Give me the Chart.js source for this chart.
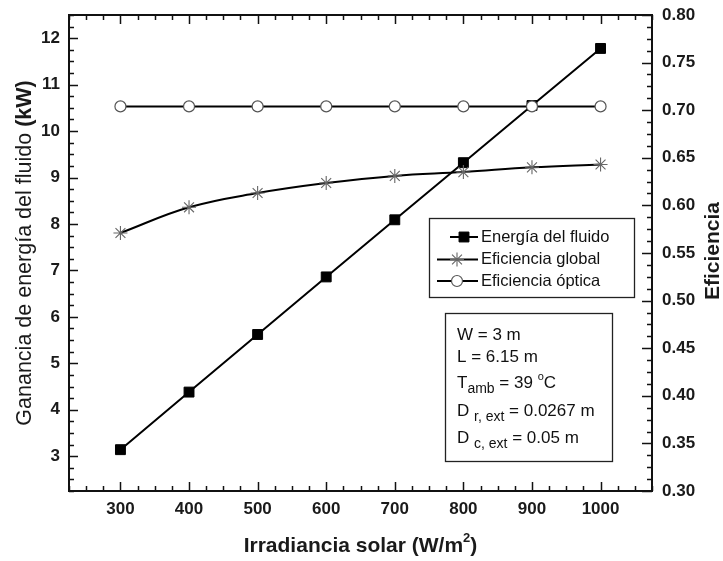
<!DOCTYPE html>
<html>
<head>
<meta charset="utf-8">
<script src="https://cdn.jsdelivr.net/npm/chart.js@4"></script>
<style>
  body { margin: 0; background: #fff; }
</style>
</head>
<body>
<canvas id="myChart" width="723" height="561"></canvas>
<script>
// datos
var irradiancia = [300, 400, 500, 600, 700, 800, 900, 1000]
var energiaFluido = [3.14, 4.38, 5.62, 6.86, 8.09, 9.32, 10.55, 11.78]
var eficGlobal = [0.571, 0.598, 0.613, 0.6235, 0.631, 0.635, 0.640, 0.643]
var eficOptica = [0.704, 0.704, 0.704, 0.704, 0.704, 0.704, 0.704, 0.704]
var xTicks = [300, 400, 500, 600, 700, 800, 900, 1000]
var yTicks = [3, 4, 5, 6, 7, 8, 9, 10, 11, 12]
var y2Ticks = [0.30, 0.35, 0.40, 0.45, 0.50, 0.55, 0.60, 0.65, 0.70, 0.75, 0.80]
var nombres = ['Energía del fluido', 'Eficiencia global', 'Eficiencia óptica']

const FONT = "'Liberation Sans', Arial, sans-serif"

function pares(xs, ys) {
  return xs.map((x, i) => ({ x: x, y: ys[i] }))
}

function textRuns(ctx, runs, x, y) {
  runs.forEach(r => {
    ctx.font = (r.bold ? 'bold ' : '') + r.size + 'px ' + FONT
    ctx.fillText(r.t, x, y + (r.dy || 0))
    x += ctx.measureText(r.t).width
  })
  return x
}
function runsWidth(ctx, runs) {
  let w = 0
  runs.forEach(r => {
    ctx.font = (r.bold ? 'bold ' : '') + r.size + 'px ' + FONT
    w += ctx.measureText(r.t).width
  })
  return w
}

const marco = {
  id: 'marco',
  afterDraw(chart) {
    const ctx = chart.ctx, a = chart.chartArea
    const sx = chart.scales.x, sy = chart.scales.y, sy2 = chart.scales.y2
    ctx.save()
    ctx.strokeStyle = '#111'
    ctx.lineWidth = 1.5
    ctx.beginPath()
    // x ticks (abajo y arriba, hacia dentro)
    for (let v = sx.min; v <= sx.max + 0.01; v += 25) {
      const px = Math.round(sx.getPixelForValue(v)) + 0.5
      const len = v % 100 === 0 ? 9 : 5
      ctx.moveTo(px, a.bottom); ctx.lineTo(px, a.bottom - len)
      ctx.moveTo(px, a.top); ctx.lineTo(px, a.top + len)
    }
    for (let v = sy.min; v <= sy.max + 0.001; v += 0.25) {
      const py = Math.round(sy.getPixelForValue(v)) + 0.5
      const len = Math.abs(v - Math.round(v)) < 0.01 ? 9 : 5
      ctx.moveTo(a.left, py); ctx.lineTo(a.left + len, py)
    }
    for (let i = 0; i <= 40; i++) {
      const v = sy2.min + i * 0.0125
      const py = Math.round(sy2.getPixelForValue(v)) + 0.5
      const len = i % 4 === 0 ? 10 : 5
      ctx.moveTo(a.right, py); ctx.lineTo(a.right - len, py)
    }
    ctx.stroke()
    ctx.lineWidth = 2
    ctx.strokeRect(a.left, a.top, a.right - a.left, a.bottom - a.top)

    // leyenda
    ctx.lineWidth = 1.3
    ctx.strokeStyle = '#222'
    ctx.strokeRect(429.5, 218.5, 205, 79)
    const ds = chart.data.datasets
    const filas = [237, 259.5, 281]
    ds.forEach((d, i) => {
      const y = filas[i]
      const x0 = i === 0 ? 450 : 437
      const xm = i === 0 ? 464 : 457
      ctx.strokeStyle = '#000'
      ctx.lineWidth = 2
      ctx.beginPath(); ctx.moveTo(x0, y); ctx.lineTo(478, y); ctx.stroke()
      ctx.fillStyle = d.pointBackgroundColor
      ctx.strokeStyle = d.pointBorderColor
      ctx.lineWidth = d.pointBorderWidth
      Chart.helpers.drawPoint(ctx, { pointStyle: d.pointStyle, radius: d.pointRadius, borderWidth: d.pointBorderWidth }, xm, y)
      ctx.fillStyle = '#111'
      ctx.font = '16.5px ' + FONT
      ctx.textBaseline = 'middle'
      ctx.textAlign = 'left'
      ctx.fillText(d.label, 481, y)
    })

    // caja de parametros
    ctx.lineWidth = 1.3
    ctx.strokeStyle = '#222'
    ctx.strokeRect(445.5, 313.5, 167, 148)
    ctx.fillStyle = '#111'
    ctx.textBaseline = 'alphabetic'
    const F = 17, S = 14
    textRuns(ctx, [{ t: 'W = 3 m', size: F }], 457, 340)
    textRuns(ctx, [{ t: 'L = 6.15 m', size: F }], 457, 362)
    textRuns(ctx, [{ t: 'T', size: F }, { t: 'amb', size: S, dy: 5 }, { t: ' = 39 ', size: F },
      { t: 'o', size: 11, dy: -8 }, { t: 'C', size: F }], 457, 388)
    textRuns(ctx, [{ t: 'D ', size: F }, { t: 'r, ext', size: S, dy: 5 }, { t: ' = 0.0267 m', size: F }], 457, 416)
    textRuns(ctx, [{ t: 'D ', size: F }, { t: 'c, ext', size: S, dy: 5 }, { t: ' = 0.05 m', size: F }], 457, 443)

    // titulos de ejes
    ctx.fillStyle = '#1a1a1a'
    ctx.textBaseline = 'middle'
    const izq = [{ t: 'Ganancia de energía del fluido ', size: 21.5 }, { t: '(kW)', size: 21.5, bold: true }]
    ctx.save()
    ctx.translate(25, (a.top + a.bottom) / 2)
    ctx.rotate(-Math.PI / 2)
    textRuns(ctx, izq, -runsWidth(ctx, izq) / 2, 0)
    ctx.restore()

    const der = [{ t: 'Eficiencia', size: 21, bold: true }]
    ctx.save()
    ctx.translate(713, (a.top + a.bottom) / 2 - 2)
    ctx.rotate(-Math.PI / 2)
    textRuns(ctx, der, -runsWidth(ctx, der) / 2, 0)
    ctx.restore()

    const abajo = [{ t: 'Irradiancia solar (W/m', size: 21, bold: true }, { t: '2', size: 13, bold: true, dy: -8 },
      { t: ')', size: 21, bold: true }]
    textRuns(ctx, abajo, (a.left + a.right) / 2 - runsWidth(ctx, abajo) / 2, 546)
    ctx.restore()
  }
}

const tickFont = { family: FONT, size: 17, weight: 'bold' }

const ctx = document.getElementById('myChart')
new Chart(ctx, {
  type: 'line',
  data: {
    datasets: [{
      label: nombres[0],
      data: pares(irradiancia, energiaFluido),
      yAxisID: 'y',
      borderColor: '#000',
      borderWidth: 2,
      pointStyle: 'rect',
      pointRadius: 7,
      pointBackgroundColor: '#000',
      pointBorderColor: '#000',
      pointBorderWidth: 1,
      tension: 0,
      order: 2
    }, {
      label: nombres[1],
      data: pares(irradiancia, eficGlobal),
      yAxisID: 'y2',
      borderColor: '#000',
      borderWidth: 2,
      pointStyle: 'star',
      pointRadius: 7,
      pointBackgroundColor: '#666',
      pointBorderColor: '#666',
      pointBorderWidth: 1.1,
      tension: 0.4,
      order: 1
    }, {
      label: nombres[2],
      data: pares(irradiancia, eficOptica),
      yAxisID: 'y2',
      borderColor: '#000',
      borderWidth: 2,
      pointStyle: 'circle',
      pointRadius: 5.5,
      pointBackgroundColor: '#fff',
      pointBorderColor: '#555',
      pointBorderWidth: 1.2,
      tension: 0,
      order: 0
    }]
  },
  options: {
    responsive: false,
    animation: false,
    devicePixelRatio: 1,
    layout: { padding: { top: 15, left: 0, right: 0, bottom: 0 } },
    plugins: { legend: { display: false }, tooltip: { enabled: false } },
    scales: {
      x: {
        type: 'linear',
        min: 225,
        max: 1075,
        afterBuildTicks: s => { s.ticks = xTicks.map(v => ({ value: v })) },
        afterFit: s => { s.height = 70; s.paddingLeft = 0; s.paddingRight = 0 },
        grid: { display: false, drawTicks: false },
        border: { display: false },
        ticks: { font: tickFont, color: '#1a1a1a', padding: 8, maxRotation: 0, callback: v => String(v) }
      },
      y: {
        position: 'left',
        min: 2.25,
        max: 12.5,
        afterBuildTicks: s => { s.ticks = yTicks.map(v => ({ value: v })) },
        afterFit: s => { s.width = 69; s.paddingTop = 0; s.paddingBottom = 0 },
        grid: { display: false, drawTicks: false },
        border: { display: false },
        ticks: { font: tickFont, color: '#1a1a1a', padding: 9, callback: v => String(v) }
      },
      y2: {
        position: 'right',
        min: 0.30,
        max: 0.80,
        afterBuildTicks: s => { s.ticks = y2Ticks.map(v => ({ value: v })) },
        afterFit: s => { s.width = 71; s.paddingTop = 0; s.paddingBottom = 0 },
        grid: { display: false, drawTicks: false },
        border: { display: false },
        ticks: { font: tickFont, color: '#1a1a1a', padding: 10, callback: v => v.toFixed(2) }
      }
    }
  },
  plugins: [marco]
})
</script>
</body>
</html>
